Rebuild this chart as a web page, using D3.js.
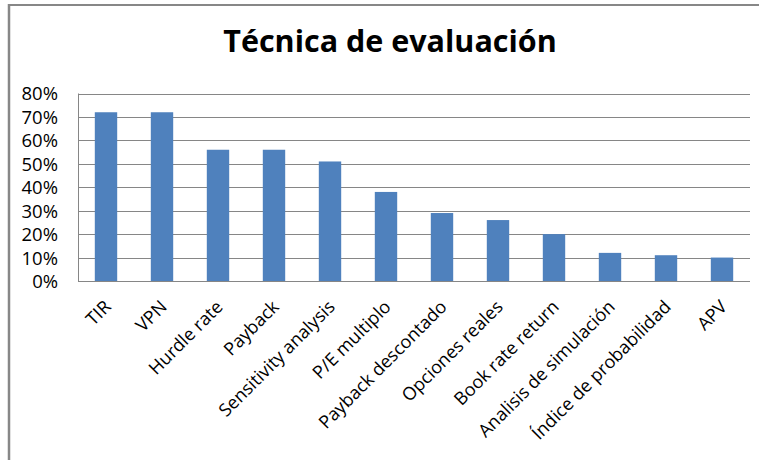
<!DOCTYPE html>
<html>
<head>
<meta charset="utf-8">
<script src="https://cdn.jsdelivr.net/npm/d3@7"></script>
<style>
  body { margin: 0; background: #fff; }
  text { font-family: "Open Sans", sans-serif; fill: #000; }
</style>
</head>
<body>
<script>
// values
var categories = ["TIR", "VPN", "Hurdle rate", "Payback", "Sensitivity analysis", "P/E multiplo",
    "Payback descontado", "Opciones reales", "Book rate return", "Analisis de simulación",
    "Índice de probabilidad", "APV"];
var values = [0.72, 0.72, 0.56, 0.56, 0.51, 0.38, 0.29, 0.26, 0.20, 0.12, 0.11, 0.10];
var yTicks = [0, 0.1, 0.2, 0.3, 0.4, 0.5, 0.6, 0.7, 0.8];
var title = "Técnica de evaluación";

var width = 759, height = 460;
var plot = {left: 78, right: 750, top: 93.5, bottom: 281};

var svg = d3.select("body").append("svg")
    .attr("width", width)
    .attr("height", height);

// chart frame (only top and left edges are visible)
svg.append("line").attr("x1", 9).attr("x2", width).attr("y1", 5).attr("y2", 5)
    .attr("stroke", "#878787").attr("stroke-width", 2);
svg.append("line").attr("x1", 9).attr("x2", 9).attr("y1", 4).attr("y2", height)
    .attr("stroke", "#878787").attr("stroke-width", 2.5);

svg.append("text")
    .attr("x", 390).attr("y", 52)
    .attr("text-anchor", "middle")
    .style("font-size", "30.5px")
    .style("font-weight", "bold")
    .text(title);

var x = d3.scaleBand()
    .domain(categories)
    .range([plot.left, plot.right])
    .paddingInner(0.6)
    .paddingOuter(0.3);

var y = d3.scaleLinear()
    .domain([0, 0.8])
    .range([plot.bottom, plot.top]);

// gridlines
svg.append("g").selectAll("line")
    .data(yTicks)
    .enter().append("line")
    .attr("x1", plot.left).attr("x2", plot.right)
    .attr("y1", function(d){ return Math.round(y(d)) + 0.5; })
    .attr("y2", function(d){ return Math.round(y(d)) + 0.5; })
    .attr("stroke", "#868686")
    .attr("stroke-width", 1);

// plot border left
svg.append("line")
    .attr("x1", plot.left + 0.5).attr("x2", plot.left + 0.5)
    .attr("y1", plot.top).attr("y2", plot.bottom)
    .attr("stroke", "#868686");

// bars
svg.append("g").selectAll("rect")
    .data(values)
    .enter().append("rect")
    .attr("x", function(d, i){ return x(categories[i]); })
    .attr("width", x.bandwidth())
    .attr("y", function(d){ return y(d); })
    .attr("height", function(d){ return y(0) - y(d); })
    .attr("fill", "#4f81bd");

// y axis
var yAxis = d3.axisLeft(y)
    .tickValues(yTicks)
    .tickFormat(d3.format(".0%"))
    .tickSize(0)
    .tickPadding(20);

svg.append("g")
    .attr("transform", "translate(" + plot.left + ",0)")
    .call(yAxis)
    .call(function(g){ g.select(".domain").remove(); })
    .selectAll("text")
    .style("font-size", "18.5px")
    .style("font-family", "'Open Sans', sans-serif")
    .attr("dy", "0.35em");

// x axis
var xAxis = d3.axisBottom(x).tickSize(0).tickPadding(0);

svg.append("g")
    .attr("transform", "translate(0," + plot.bottom + ")")
    .call(xAxis)
    .call(function(g){ g.select(".domain").remove(); })
    .selectAll("text")
    .style("font-size", "18px")
    .style("font-family", "'Open Sans', sans-serif")
    .attr("text-anchor", "end")
    .attr("dy", 0)
    .attr("transform", "translate(6,27) rotate(-45)");
</script>
</body>
</html>
